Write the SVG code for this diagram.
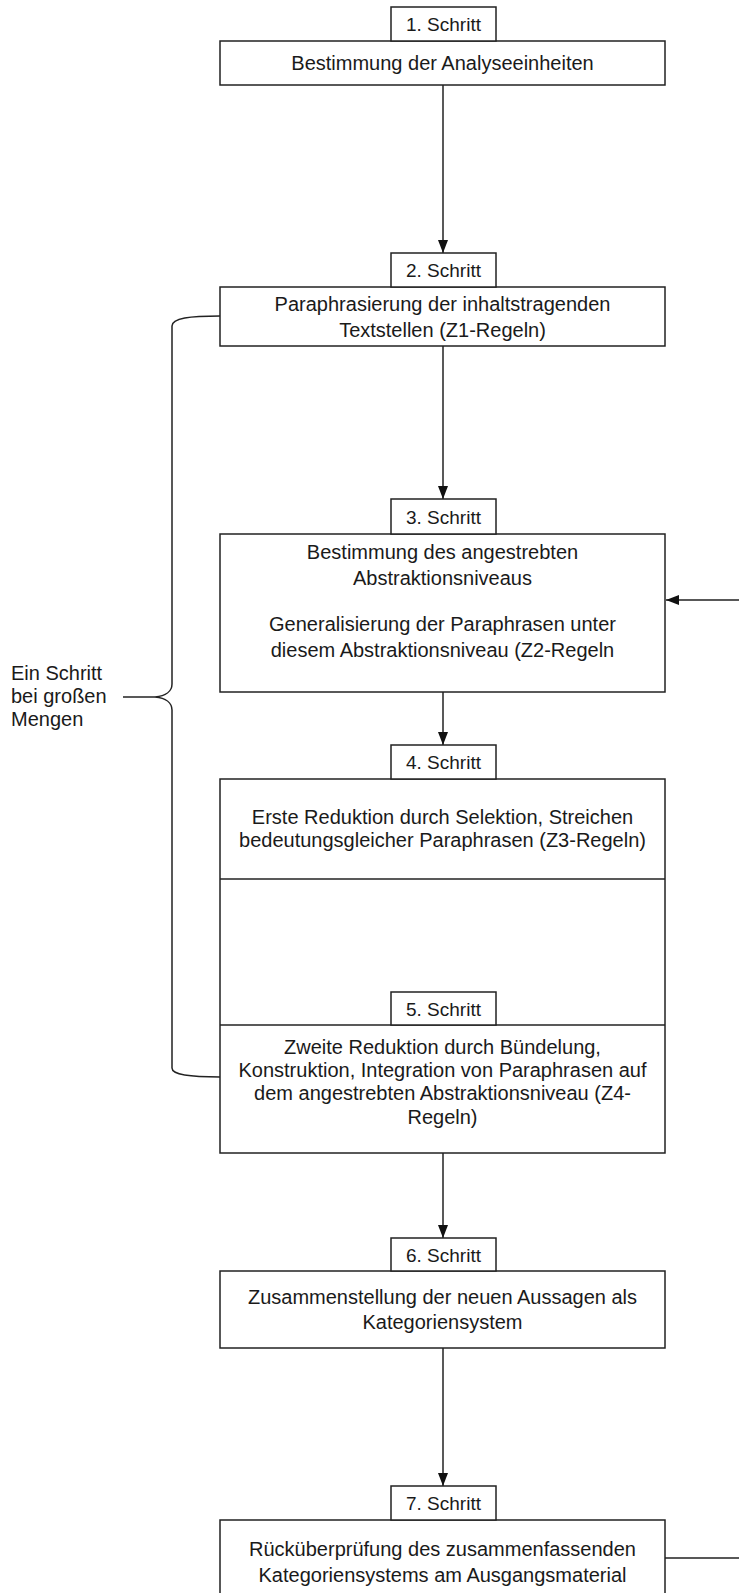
<svg xmlns="http://www.w3.org/2000/svg" width="739" height="1593" viewBox="0 0 739 1593">
<style>
.b{fill:#fff;stroke:#222;stroke-width:1.5}
.t{font-family:"Liberation Sans",Arial,sans-serif;font-size:20px;fill:#1a1a1a;text-anchor:middle}
.s{font-family:"Liberation Sans",Arial,sans-serif;font-size:19px;fill:#1a1a1a;text-anchor:middle}
.l{font-family:"Liberation Sans",Arial,sans-serif;font-size:20px;fill:#1a1a1a}
.c{fill:none;stroke:#222;stroke-width:1.5}
</style>
<defs>
<marker id="ah" viewBox="0 0 13 10" refX="13" refY="5" markerWidth="13" markerHeight="10" markerUnits="userSpaceOnUse" orient="auto"><path d="M0,0 L13,5 L0,10 z" fill="#111"/></marker>
</defs>
<g id="connectors">
<line class="c" x1="443" y1="85" x2="443" y2="253" marker-end="url(#ah)"/>
<line class="c" x1="443" y1="346" x2="443" y2="499" marker-end="url(#ah)"/>
<line class="c" x1="443" y1="692" x2="443" y2="745" marker-end="url(#ah)"/>
<line class="c" x1="443" y1="879" x2="443" y2="992" marker-end="url(#ah)"/>
<line class="c" x1="443" y1="1153" x2="443" y2="1238" marker-end="url(#ah)"/>
<line class="c" x1="443" y1="1348" x2="443" y2="1486" marker-end="url(#ah)"/>
<path class="c" d="M665,1558 H745 V600 H666" marker-end="url(#ah)"/>
</g>
<g id="bracket">
<path class="c" d="M220,316 C190,316 172,318 172,326 V684 C172,691 166,696 155,697 C166,698 172,703 172,710 V1068 C172,1075 190,1077 220,1077"/>
<line class="c" x1="123" y1="697" x2="155" y2="697"/>
<text class="l" x="11" y="680">Ein Schritt</text>
<text class="l" x="11" y="703">bei großen</text>
<text class="l" x="11" y="726">Mengen</text>
</g>
<g id="step4-5-frame">
<rect class="b" x="220" y="779" width="445" height="374"/>
</g>
<g id="step1">
<rect class="b" x="220" y="41" width="445" height="44"/>
<rect class="b" x="391" y="7" width="105" height="34"/>
<text class="s" x="443.5" y="31">1. Schritt</text>
<text class="t" x="442.5" y="70">Bestimmung der Analyseeinheiten</text>
</g>
<g id="step2">
<rect class="b" x="220" y="287" width="445" height="59"/>
<rect class="b" x="391" y="253" width="105" height="34"/>
<text class="s" x="443.5" y="277">2. Schritt</text>
<text class="t" x="442.5" y="311">Paraphrasierung der inhaltstragenden</text>
<text class="t" x="442.5" y="337">Textstellen (Z1-Regeln)</text>
</g>
<g id="step3">
<rect class="b" x="220" y="534" width="445" height="158"/>
<rect class="b" x="391" y="499" width="105" height="35"/>
<text class="s" x="443.5" y="523.5">3. Schritt</text>
<text class="t" x="442.5" y="559">Bestimmung des angestrebten</text>
<text class="t" x="442.5" y="585">Abstraktionsniveaus</text>
<text class="t" x="442.5" y="631">Generalisierung der Paraphrasen unter</text>
<text class="t" x="442.5" y="657">diesem Abstraktionsniveau (Z2-Regeln</text>
</g>
<g id="step4">
<line class="c" x1="220" y1="879" x2="665" y2="879"/>
<rect class="b" x="391" y="745" width="105" height="34"/>
<text class="s" x="443.5" y="769">4. Schritt</text>
<text class="t" x="442.5" y="824">Erste Reduktion durch Selektion, Streichen</text>
<text class="t" x="442.5" y="847">bedeutungsgleicher Paraphrasen (Z3-Regeln)</text>
</g>
<g id="step5">
<line class="c" x1="220" y1="1025" x2="665" y2="1025"/>
<rect class="b" x="391" y="992" width="105" height="33"/>
<text class="s" x="443.5" y="1015.5">5. Schritt</text>
<text class="t" x="442.5" y="1054">Zweite Reduktion durch Bündelung,</text>
<text class="t" x="442.5" y="1077">Konstruktion, Integration von Paraphrasen auf</text>
<text class="t" x="442.5" y="1100">dem angestrebten Abstraktionsniveau (Z4-</text>
<text class="t" x="442.5" y="1124">Regeln)</text>
</g>
<g id="step6">
<rect class="b" x="220" y="1271" width="445" height="77"/>
<rect class="b" x="391" y="1238" width="105" height="33"/>
<text class="s" x="443.5" y="1261.5">6. Schritt</text>
<text class="t" x="442.5" y="1304">Zusammenstellung der neuen Aussagen als</text>
<text class="t" x="442.5" y="1329">Kategoriensystem</text>
</g>
<g id="step7">
<rect class="b" x="220" y="1520" width="445" height="90"/>
<rect class="b" x="391" y="1486" width="105" height="34"/>
<text class="s" x="443.5" y="1510">7. Schritt</text>
<text class="t" x="442.5" y="1556">Rücküberprüfung des zusammenfassenden</text>
<text class="t" x="442.5" y="1582">Kategoriensystems am Ausgangsmaterial</text>
</g>
</svg>
